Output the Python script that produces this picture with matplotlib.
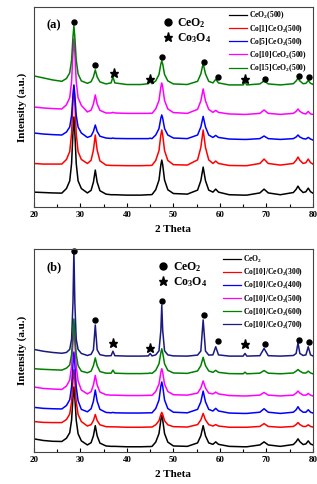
import matplotlib
matplotlib.use("Agg")
import matplotlib.pyplot as plt
from matplotlib.lines import Line2D

plt.rcParams['font.family'] = ['Liberation Serif', 'DejaVu Serif']
plt.rcParams['font.weight'] = 'bold'
plt.rcParams['mathtext.fontset'] = 'custom'
plt.rcParams['mathtext.rm'] = 'Liberation Serif:bold'
plt.rcParams['mathtext.bf'] = 'Liberation Serif:bold'
plt.rcParams['mathtext.it'] = 'Liberation Serif:italic:bold'

# 2 theta sample points (shared by every pattern)
two_theta = [20, 22, 24, 26,
             27.0, 27.7, 28.1, 28.4, 28.6, 28.8, 29.1, 29.5, 30.2,
             31.5, 32.3, 32.8, 33.2, 33.6, 34.2,
             35.5, 36.6, 37.0, 37.4, 40, 43, 44.6, 45.0, 45.4,
             46.2, 46.9, 47.3, 47.5, 47.7, 48.1, 48.8, 50, 53,
             55.2, 55.9, 56.4, 56.9, 57.6,
             58.5, 59.1, 59.7, 62, 65.0, 65.4, 65.8, 68.6, 69.5, 70.4, 73,
             75.8, 76.4, 76.8, 77.2, 77.9, 78.5, 79.0, 79.5, 80]

# panel (a): Co loading series, calcined at 500
a_labels = ["CeO$_2$(500)", "Co[1]CeO$_2$(500)", "Co[5]CeO$_2$(500)",
            "Co[10]CeO$_2$(500)", "Co[15]CeO$_2$(500)"]
a_colors = ["black", "#ff0000", "#0000ff", "#ff00ff", "#008000"]
a_ceo2 = [7.5, 7.3, 7.1, 7.0,
          9.3, 13.1, 21.8, 37.4, 45, 37.4, 21.8, 13.1, 9.3,
          7.1, 8.4, 12.5, 18.5, 12.5, 8.2,
          6.5, 6.2, 6.2, 6.2, 6, 6, 6.2, 6.2, 6.3,
          8.7, 13.5, 21.1, 23.5, 21.1, 13.5, 8.7, 6.8, 6.5,
          8.5, 13.2, 20, 13.2, 8.5,
          7.5, 9, 7.5, 6.2, 6, 6, 6, 7.1, 9, 7.1, 6.2,
          7.3, 8.9, 10.5, 8.9, 7.3, 7.7, 9.5, 7.7, 7]
a_co1 = [21.8, 21.5, 21.5, 21.5,
         23.8, 27.7, 36.7, 52.7, 60.5, 52.7, 36.7, 27.7, 23.8,
         21.8, 23.4, 28.5, 36, 28.5, 23.1,
         21, 20.8, 20.8, 20.8, 20.7, 20.7, 20.8, 20.8, 20.9,
         23.3, 28.2, 36, 38.5, 36, 28.2, 23.3, 21.2, 21,
         23.6, 29.8, 38.5, 29.8, 23.6,
         21.8, 23, 21.8, 20.8, 20.7, 20.7, 20.7, 21.8, 24, 21.8, 21,
         21.8, 23.4, 25, 23.4, 21.8, 22.2, 24, 22.2, 21.5]
a_co5 = [37, 36.5, 36.2, 36,
         37.5, 40, 45.8, 56, 61, 56, 45.8, 40, 37,
         34.8, 35.5, 37.8, 41, 37.8, 35.4,
         34.5, 34.3, 34.5, 34.3, 34.2, 34.2, 34.2, 34.4, 34.2,
         36, 39.2, 44.4, 46, 44.4, 39.2, 36, 34.5, 34.2,
         36, 40, 45.3, 40, 36,
         34.8, 35.8, 34.8, 34, 33.8, 33.8, 33.8, 34.2, 35.5, 34.2, 33.8,
         34.2, 35, 36, 35, 34.2, 34, 34.8, 34, 33.5]
a_co10 = [50, 49.5, 49.2, 49,
          51.1, 54.6, 62.7, 77, 84, 77, 62.7, 54.6, 50.8,
          47.5, 48.4, 51.5, 56, 51.5, 48.3,
          47, 47, 47.3, 47, 46.8, 46.8, 46.8, 46.9, 46.8,
          49, 53.2, 59.9, 62, 59.9, 53.2, 49, 47.2, 46.8,
          48.8, 53, 59, 53, 48.8,
          47.3, 48.3, 47.3, 46.5, 46.3, 46.3, 46.3, 46.8, 48.5, 46.8, 46.3,
          46.8, 47.8, 49, 47.8, 46.8, 46.5, 47.8, 46.5, 46.3]
a_co15 = [65.5, 64.5, 63.5, 62.8,
          64.2, 67, 73.4, 84.9, 90.5, 84.9, 73.4, 66.5, 63,
          61.8, 62.6, 65, 68.5, 65, 62.5,
          61.5, 62, 65, 62, 61.2, 61.2, 61.6, 62.8, 61.6,
          63, 66.2, 71.4, 73, 71.4, 66.2, 63, 61.5, 61.2,
          62.8, 66.5, 71.7, 66.5, 62.8,
          62, 63.8, 62, 61, 61, 62.3, 61, 61.5, 63, 61.5, 61,
          61.6, 63, 64.3, 63, 61.6, 61.8, 63.2, 61.8, 61.3]
a_series = [a_ceo2, a_co1, a_co5, a_co10, a_co15]

# panel (b): Co[10]/CeO2 at different calcination temperatures
b_labels = ["CeO$_2$", "Co[10]/CeO$_2$(300)", "Co[10]/CeO$_2$(400)",
            "Co[10]/CeO$_2$(500)", "Co[10]/CeO$_2$(600)", "Co[10]/CeO$_2$(700)"]
b_colors = ["black", "#ff0000", "#0000ff", "#ff00ff", "#008000", "#1a1a80"]
b_ceo2 = [6.5, 5.7, 5.3, 5.2,
          6.8, 9.5, 15.7, 26.8, 32, 26.8, 15.7, 9, 5.5,
          3.5, 4.6, 8, 13, 8, 4.4,
          3, 2.8, 2.8, 2.8, 2.6, 2.6, 2.7, 2.7, 2.8,
          4.9, 9.1, 15.8, 18, 15.8, 9.1, 4.9, 3, 2.8,
          4.5, 8, 13, 8, 4.5,
          3.8, 5, 3.8, 2.8, 2.6, 2.6, 2.6, 3.5, 5, 3.5, 2.8,
          3.7, 5.1, 6.5, 5.1, 3.7, 4, 5.5, 4, 3.5]
b_co300 = [15, 14.6, 14.5, 14.5,
           16, 18.7, 24.6, 35.3, 40.5, 35.3, 24.6, 18.5, 15,
           12.8, 13.5, 15.5, 18.5, 15.5, 13.4,
           12.5, 12.4, 12.4, 12.4, 12.2, 12.2, 12.3, 12.3, 12.3,
           13.4, 15.4, 18.5, 19.5, 18.5, 15.4, 13.4, 12.5, 12.3,
           13.5, 15.8, 19, 15.8, 13.5,
           12.8, 13.5, 12.8, 12.2, 12.2, 12.2, 12.2, 12.6, 14, 12.6, 12.2,
           12.6, 13.5, 14.5, 13.5, 12.6, 12.6, 13.4, 12.6, 12.3]
b_co400 = [22, 21.5, 21.3, 21.2,
           22.9, 25.7, 32.1, 43.6, 49.2, 43.6, 32.1, 25.2, 21,
           19.8, 21.3, 25, 30.5, 25, 21,
           19.5, 19.3, 19.5, 19.3, 19.2, 19.2, 19.3, 19.3, 19.3,
           21.4, 25.6, 32.4, 34.5, 32.4, 25.6, 21.4, 19.6, 19.3,
           21, 24.7, 30, 24.7, 21,
           20.2, 21.5, 20.2, 19.2, 19, 19, 19, 19.6, 21.3, 19.6, 19,
           19.6, 20.8, 22.3, 20.8, 19.6, 19.6, 20.8, 19.6, 19.2]
b_co500 = [32, 31.3, 31, 30.8,
           32.5, 35.4, 42.1, 54, 59.8, 54, 42.1, 35, 30.5,
           28.6, 29.7, 33, 37.7, 33, 29.5,
           28.2, 28, 28, 28, 27.8, 27.8, 27.9, 27.9, 27.9,
           29.8, 33.4, 39.2, 41, 39.2, 33.4, 29.8, 28.2, 28,
           29, 31.5, 35, 31.5, 29,
           28.6, 29.5, 28.6, 27.8, 27.6, 27.6, 27.6, 28, 29.3, 28, 27.6,
           28, 29, 30, 29, 28, 28, 28.8, 28, 27.6]
b_co600 = [41, 40.7, 40.5, 40.3,
           41.3, 42.8, 48, 58, 65.5, 58, 48, 42.5, 39.8,
           39, 39.8, 42.5, 46.3, 42.5, 39.6,
           38.8, 38.8, 40.3, 38.8, 38.6, 38.6, 38.7, 38.9, 38.7,
           40.2, 43.4, 48.8, 50.8, 48.8, 43.4, 40.2, 38.9, 38.7,
           39.9, 42.5, 46.6, 42.5, 39.9,
           39.2, 40.2, 39.2, 38.6, 38.5, 39.3, 38.5, 38.8, 40.1, 38.8, 38.5,
           38.9, 39.8, 40.6, 39.8, 38.9, 38.9, 39.8, 38.9, 38.5]
b_co700 = [50.5, 49.6, 49, 48.6,
           49, 50.5, 55.5, 73.5, 99.5, 73.5, 55.5, 50.5, 48.5,
           47.5, 48.1, 50.3, 62.5, 50.3, 47.9,
           47.3, 47.4, 49.6, 47.4, 47.2, 47.2, 47.3, 48.5, 47.3,
           47.8, 49.8, 59.8, 72.3, 59.8, 49.8, 47.8, 47.3, 47.2,
           47.7, 49.7, 65, 49.7, 47.7,
           47.8, 51.8, 47.8, 47.2, 47.2, 48.5, 47.2, 47.4, 51, 47.4, 47.2,
           47.5, 48.5, 53.7, 48.5, 47.5, 47.8, 51.8, 47.8, 47.3]
b_series = [b_ceo2, b_co300, b_co400, b_co500, b_co600, b_co700]

# reflection markers
a_ceo2_pos = [28.6, 33.2, 47.6, 56.5, 59.6, 69.7, 77.0, 79.1]
a_ceo2_h = [92.5, 71, 75, 72.5, 65, 64, 65.5, 65]
a_co3o4_pos = [37.2, 45.0, 65.5]
a_co3o4_h = [67, 64, 64]
b_ceo2_pos = [28.6, 33.2, 47.6, 56.6, 59.6, 69.7, 77.0, 79.2]
b_ceo2_h = [99, 65, 74.4, 67.3, 54.8, 53, 55.3, 54]
b_co3o4_pos = [37.0, 45.0, 65.5]
b_co3o4_h = [53.8, 51.4, 53]

for s in a_series + b_series:
    assert len(s) == len(two_theta)

fig = plt.figure(figsize=(3.17, 4.84), dpi=100)
ax_a = fig.add_axes([0.107, 0.572, 0.880, 0.414])
ax_b = fig.add_axes([0.107, 0.066, 0.880, 0.420])

panels = [
    (ax_a, "(a)", a_series, a_colors, a_labels, a_ceo2_pos, a_ceo2_h, a_co3o4_pos, a_co3o4_h,
     (0.69, 1.0), (0.445, 0.975)),
    (ax_b, "(b)", b_series, b_colors, b_labels, b_ceo2_pos, b_ceo2_h, b_co3o4_pos, b_co3o4_h,
     (0.668, 0.99), (0.43, 0.965)),
]

for ax, tag, series, colors, labels, cpos, ch, spos, sh, leg_at, sym_at in panels:
    lines = []
    for y, c, lab in zip(series, colors, labels):
        ln, = ax.plot(two_theta, y, color=c, lw=1.1, label=lab)
        lines.append(ln)
    ax.plot(cpos, ch, 'o', color='black', ms=3.6, clip_on=False)
    ax.plot(spos, sh, '*', color='black', ms=6.5, clip_on=False)

    ax.set_xlim(20, 80)
    ax.set_ylim(0, 100)
    ax.set_xticks(range(20, 81, 10))
    ax.set_xticks(range(25, 80, 10), minor=True)
    ax.set_yticks([])
    ax.tick_params(axis='x', which='major', direction='in', length=3, width=0.8,
                   labelsize=6.5, pad=3)
    ax.tick_params(axis='x', which='minor', direction='in', length=2, width=0.8)
    for s in ax.spines.values():
        s.set_color('#444444')
        s.set_linewidth(0.8)
    ax.set_xlabel("2 Theta", fontsize=8, fontweight='bold', labelpad=4)
    ax.set_ylabel("Intensity (a.u.)", fontsize=8, fontweight='bold', labelpad=5)
    ax.text(0.045, 0.91, tag, transform=ax.transAxes, fontsize=9, fontweight='bold',
            va='center')

    leg = ax.legend(handles=lines, loc='upper left', bbox_to_anchor=leg_at, frameon=False,
                    fontsize=5.5, handlelength=2.3, handletextpad=0.3, labelspacing=0.2,
                    borderaxespad=0)
    for h in leg.get_lines():
        h.set_linewidth(0.9)
    ax.add_artist(leg)
    sym = [Line2D([], [], marker='o', ls='', color='black', ms=5),
           Line2D([], [], marker='*', ls='', color='black', ms=6.5)]
    ax.legend(handles=sym, labels=["CeO$_2$", "Co$_3$O$_4$"], loc='upper left',
              bbox_to_anchor=sym_at, frameon=False, fontsize=8.5, handlelength=0.8,
              handletextpad=0.4, labelspacing=0.1, borderaxespad=0)

fig.savefig("out.png", dpi=100)
